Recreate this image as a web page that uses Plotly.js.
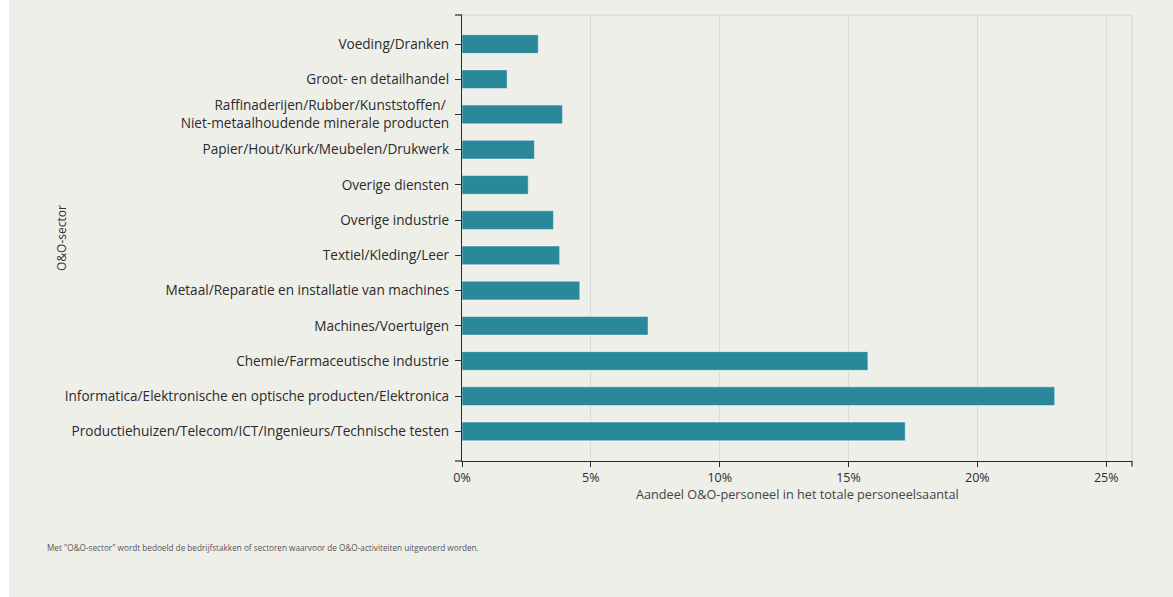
<!DOCTYPE html>
<html>
<head>
<meta charset="utf-8">
<script src="https://cdn.plot.ly/plotly-3.0.1.min.js"></script>
<style>
  html, body { margin: 0; padding: 0; background: #ffffff; }
  #chart { position: absolute; left: 9px; top: 0; width: 1164px; height: 597px; }
</style>
</head>
<body>
<div id="chart"></div>
<script>
const categories = [
  "Voeding/Dranken",
  "Groot- en detailhandel",
  "Raffinaderijen/Rubber/Kunststoffen/ <br>Niet-metaalhoudende minerale producten",
  "Papier/Hout/Kurk/Meubelen/Drukwerk",
  "Overige diensten",
  "Overige industrie",
  "Textiel/Kleding/Leer",
  "Metaal/Reparatie en installatie van machines",
  "Machines/Voertuigen",
  "Chemie/Farmaceutische industrie",
  "Informatica/Elektronische en optische producten/Elektronica",
  "Productiehuizen/Telecom/ICT/Ingenieurs/Technische testen"
];
const shares = [2.96, 1.75, 3.9, 2.81, 2.57, 3.55, 3.79, 4.57, 7.22, 15.75, 23.0, 17.2];
const xTickValues = [0, 5, 10, 15, 20, 25];
const xTitle = "Aandeel O&O-personeel in het totale personeelsaantal";
const yTitle = "O&O-sector";
const footnote = "Met \"O&O-sector\" wordt bedoeld de bedrijfstakken of sectoren waarvoor de O&O-activiteiten uitgevoerd worden.";

const fontFam = "Open Sans, Noto Sans, sans-serif";
const gridCol = "#dcdcd6";
const axisCol = "#2b2b2b";

const trace = {
  type: "bar",
  orientation: "h",
  x: shares,
  y: categories,
  width: 0.53,
  marker: { color: "#29899b", line: { color: "rgba(255,255,255,0.45)", width: 1 } },
  hoverinfo: "x+y"
};

const layout = {
  width: 1164,
  height: 597,
  margin: { l: 453, r: 41, t: 15, b: 136 },
  paper_bgcolor: "#efefea",
  plot_bgcolor: "#efefea",
  font: { family: fontFam, color: "#2b2b2b", size: 13 },
  showlegend: false,
  xaxis: {
    range: [0, 26],
    tickvals: xTickValues,
    ticktext: xTickValues.map(v => v + "%"),
    showgrid: true,
    gridcolor: gridCol,
    gridwidth: 1,
    zeroline: false,
    showline: true,
    linecolor: axisCol,
    linewidth: 1.2,
    ticks: "outside",
    ticklen: 5,
    tickcolor: axisCol,
    tickfont: { size: 12.5, color: "#2b2b2b" },
    fixedrange: true
  },
  yaxis: {
    type: "category",
    range: [11.84, -0.824],
    showgrid: false,
    zeroline: false,
    showline: true,
    linecolor: axisCol,
    linewidth: 1.2,
    ticks: "outside",
    ticklen: 6,
    tickcolor: axisCol,
    ticklabelstandoff: 3,
    tickfont: { size: 13.6, color: "#2b2b2b" },
    fixedrange: true
  },
  shapes: [
    { type: "line", xref: "paper", yref: "paper", x0: 0, x1: 1, y0: 1, y1: 1, line: { color: gridCol, width: 1.5 } },
    { type: "line", xref: "paper", yref: "paper", x0: 1, x1: 1, y0: 0, y1: 1, line: { color: gridCol, width: 1.5 } },
    { type: "line", xref: "paper", yref: "paper", x0: -0.0105, x1: 0, y0: 1, y1: 1, line: { color: axisCol, width: 1.2 } },
    { type: "line", xref: "paper", yref: "paper", x0: -0.0105, x1: 0, y0: 0, y1: 0, line: { color: axisCol, width: 1.2 } },
    { type: "line", xref: "paper", yref: "paper", x0: 1, x1: 1, y0: 0, y1: -0.0125, line: { color: axisCol, width: 1.2 } }
  ],
  annotations: [
    { text: yTitle, xref: "paper", yref: "paper", x: -0.5985, y: 0.5, xanchor: "center", yanchor: "middle",
      textangle: -90, showarrow: false, font: { size: 12, color: "#333333" } },
    { text: xTitle, xref: "paper", yref: "paper", x: 0.5, y: -0.074, xanchor: "center", yanchor: "middle",
      showarrow: false, font: { size: 12.7, color: "#444444" } },
    { text: footnote, xref: "paper", yref: "paper", x: -0.6225, y: -0.195, xanchor: "left", yanchor: "middle",
      showarrow: false, font: { size: 8.2, color: "#555555" } }
  ]
};

Plotly.newPlot("chart", [trace], layout, { displayModeBar: false });
</script>
</body>
</html>
